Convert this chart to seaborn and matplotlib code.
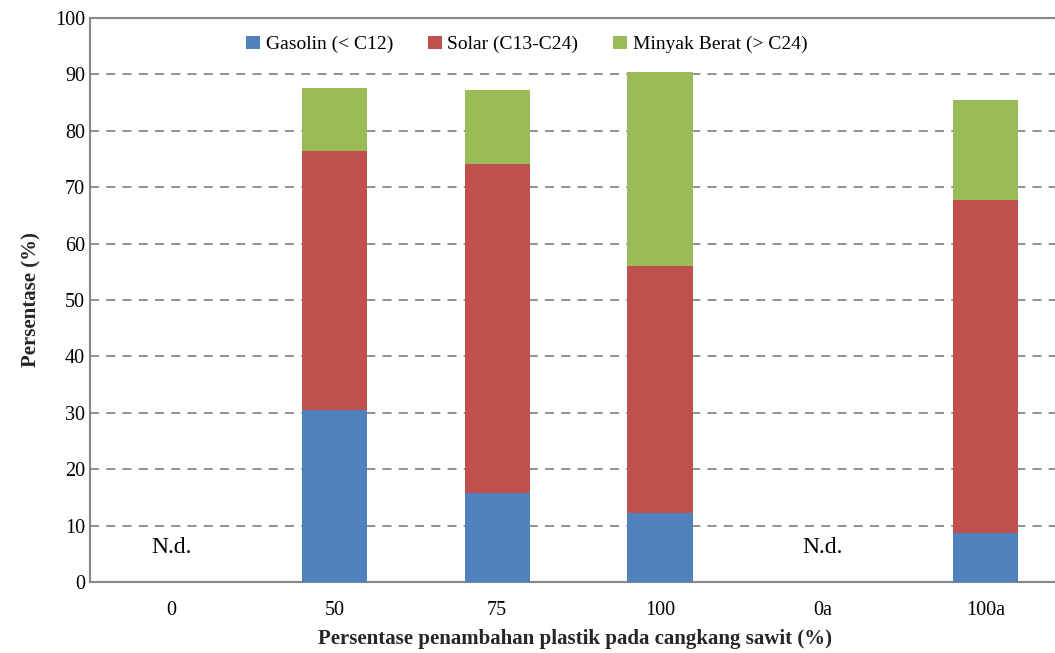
import seaborn as sns
from matplotlib import pyplot as plt
import pandas as pd

categories = ['0', '50', '75', '100', '0a', '100a']
gasolin = [0, 30.5, 15.8, 12.2, 0, 8.7]
solar = [0, 45.9, 58.3, 43.8, 0, 59.0]
minyak = [0, 11.2, 13.1, 34.4, 0, 17.8]
nd_labels = ['0', '0a']

sns.set_style('white')
plt.rcParams['font.family'] = ['Liberation Serif', 'DejaVu Serif']
plt.rcParams['text.color'] = 'black'
plt.rcParams['xtick.color'] = 'black'
plt.rcParams['ytick.color'] = 'black'

df = pd.DataFrame({'kategori': categories, 'gasolin': gasolin,
                   'solar': solar, 'minyak': minyak})
df['gs'] = df['gasolin'] + df['solar']
df['total'] = df['gs'] + df['minyak']

fig = plt.figure(figsize=(10.55, 6.53), dpi=100)
ax = fig.add_axes([0.0853, 0.1087, 0.92, 0.8637])

# stacked bars: draw cumulative totals from back to front
sns.barplot(data=df, x='kategori', y='total', color='#9BBB59', width=0.4,
            saturation=1, ax=ax, label='Minyak Berat (> C24)', zorder=3, linewidth=0)
sns.barplot(data=df, x='kategori', y='gs', color='#C0504D', width=0.4,
            saturation=1, ax=ax, label='Solar (C13-C24)', zorder=3, linewidth=0)
sns.barplot(data=df, x='kategori', y='gasolin', color='#4F81BD', width=0.4,
            saturation=1, ax=ax, label='Gasolin (< C12)', zorder=3, linewidth=0)

ax.set_ylim(0, 100)
ax.set_xlim(-0.5, 5.46)
ax.set_yticks(range(0, 101, 10))
ax.yaxis.grid(True, linestyle=(0, (5, 4)), color='#888888', linewidth=1.3, zorder=0)
ax.tick_params(axis='both', labelsize=14.5, length=0)
ax.tick_params(axis='x', pad=14)

for side in ['left', 'top', 'bottom']:
    ax.spines[side].set_color('#888888')
    ax.spines[side].set_linewidth(1.5)
ax.spines['right'].set_visible(False)

for lab in nd_labels:
    ax.text(categories.index(lab), 6.2, 'N.d.', ha='center', va='center', fontsize=17)

ax.set_xlabel('Persentase penambahan plastik pada cangkang sawit (%)',
              fontsize=15, fontweight='bold', labelpad=6)
ax.set_ylabel('Persentase (%)', fontsize=15, fontweight='bold', labelpad=10)

h, l = ax.get_legend_handles_labels()
ax.legend(h[::-1], l[::-1], loc='upper center', bbox_to_anchor=(0.45, 1.0),
          ncol=3, frameon=False, fontsize=14, handlelength=0.7, handleheight=0.7,
          handletextpad=0.3, columnspacing=1.8)

plt.savefig('out.png', dpi=100)
